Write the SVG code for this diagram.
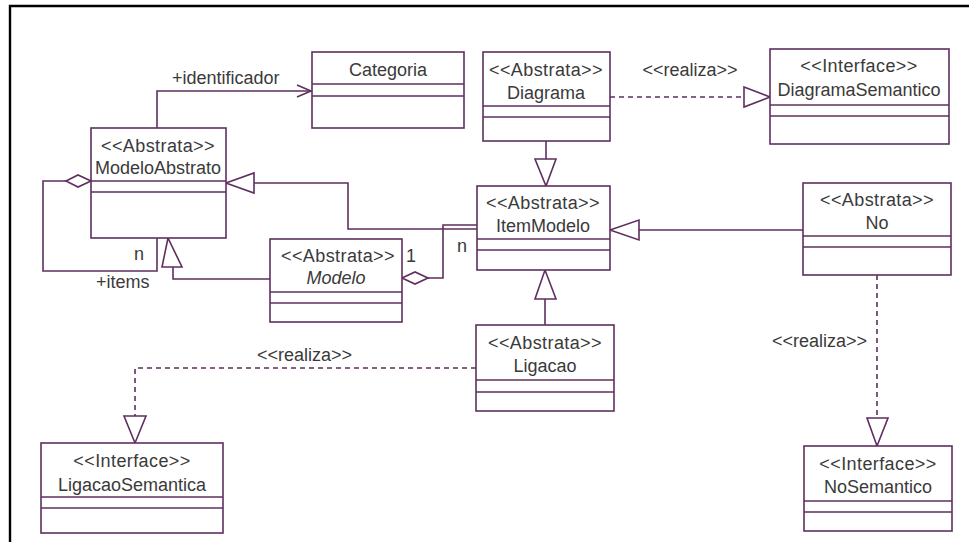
<svg xmlns="http://www.w3.org/2000/svg" width="969" height="542" viewBox="0 0 969 542">
  <defs>
    <style>
      .box { fill: #ffffff; stroke: #5e2f5e; stroke-width: 1.6; }
      .sep { stroke: #5e2f5e; stroke-width: 1.6; }
      .ln { fill: none; stroke: #5e2f5e; stroke-width: 1.6; }
      .dash { fill: none; stroke: #5e2f5e; stroke-width: 1.6; stroke-dasharray: 5 4; }
      .head { fill: #ffffff; stroke: #5e2f5e; stroke-width: 1.6; }
      text { font-family: "Liberation Sans", Arial, sans-serif; font-size: 18px; fill: #3a3a3a; }
      .c { text-anchor: middle; }
      .it { font-style: italic; }
      .st { letter-spacing: 0.4px; }
    </style>
  </defs>

  <rect x="0" y="0" width="969" height="542" fill="#ffffff"/>
  <!-- frame: top and left edges only -->
  <path d="M10 542 V6 H969" fill="none" stroke="#000000" stroke-width="2.4"/>

  <!-- connectors -->
  <g id="connectors">
    <!-- ModeloAbstrato to Categoria (navigable association) -->
    <path class="ln" d="M157 128 V91 H311"/>
    <path class="ln" d="M297 85 L311 91 L297 97"/>
    <text x="172" y="84">+identificador</text>

    <!-- Diagrama realizes DiagramaSemantico -->
    <path class="dash" d="M610 97 H744"/>
    <polygon class="head" points="744,87 770,97 744,107"/>
    <text class="c" x="690" y="76">&lt;&lt;realiza&gt;&gt;</text>

    <!-- Diagrama generalizes to ItemModelo -->
    <path class="ln" d="M546 141 V159"/>
    <polygon class="head" points="535,159 556,159 546,186"/>

    <!-- ItemModelo generalizes to ModeloAbstrato -->
    <path class="ln" d="M477 229 H348 V183 H254"/>
    <polygon class="head" points="254,173 254,193 226,183"/>

    <!-- Modelo aggregates ItemModelo -->
    <path class="ln" d="M428 278 H443 V225 H477"/>
    <polygon class="head" points="402,278 415,272 428,278 415,284"/>
    <text x="406" y="262">1</text>
    <text x="457" y="252">n</text>

    <!-- Modelo generalizes to ModeloAbstrato -->
    <path class="ln" d="M270 279 H173 V267"/>
    <polygon class="head" points="162,267 182,267 168,238"/>

    <!-- ModeloAbstrato self aggregation -->
    <path class="ln" d="M66 181 H43 V271 H157 V238"/>
    <polygon class="head" points="66,181 78,175 91,181 78,187"/>
    <text x="134" y="260">n</text>
    <text x="96" y="288">+items</text>

    <!-- Ligacao generalizes to ItemModelo -->
    <path class="ln" d="M545 325 V299"/>
    <polygon class="head" points="535,299 556,299 545,270"/>

    <!-- No generalizes to ItemModelo -->
    <path class="ln" d="M803 230 H639"/>
    <polygon class="head" points="639,220 639,240 610,230"/>

    <!-- Ligacao realizes LigacaoSemantica -->
    <path class="dash" d="M476 368 H135 V416"/>
    <polygon class="head" points="124,416 146,416 135,443"/>
    <text x="257" y="361">&lt;&lt;realiza&gt;&gt;</text>

    <!-- No realizes NoSemantico -->
    <path class="dash" d="M877 275 V418"/>
    <polygon class="head" points="867,418 888,418 877,446"/>
    <text x="772" y="347">&lt;&lt;realiza&gt;&gt;</text>
  </g>

  <!-- classes -->
  <g id="Categoria">
    <rect class="box" x="312" y="52" width="152" height="76"/>
    <line class="sep" x1="312" y1="84" x2="464" y2="84"/>
    <line class="sep" x1="312" y1="96" x2="464" y2="96"/>
    <text class="c" x="388" y="76">Categoria</text>
  </g>

  <g id="Diagrama">
    <rect class="box" x="483" y="52" width="127" height="89"/>
    <line class="sep" x1="483" y1="106" x2="610" y2="106"/>
    <line class="sep" x1="483" y1="117" x2="610" y2="117"/>
    <text class="c st" x="546" y="76">&lt;&lt;Abstrata&gt;&gt;</text>
    <text class="c" x="546" y="99">Diagrama</text>
  </g>

  <g id="DiagramaSemantico">
    <rect class="box" x="770" y="49" width="179" height="95"/>
    <line class="sep" x1="770" y1="105" x2="949" y2="105"/>
    <line class="sep" x1="770" y1="116" x2="949" y2="116"/>
    <text class="c st" x="859" y="72">&lt;&lt;Interface&gt;&gt;</text>
    <text class="c" x="859" y="96">DiagramaSemantico</text>
  </g>

  <g id="ModeloAbstrato">
    <rect class="box" x="91" y="128" width="135" height="110"/>
    <line class="sep" x1="91" y1="181" x2="226" y2="181"/>
    <line class="sep" x1="91" y1="192" x2="226" y2="192"/>
    <text class="c st" x="158" y="152">&lt;&lt;Abstrata&gt;&gt;</text>
    <text class="c" x="158" y="174">ModeloAbstrato</text>
  </g>

  <g id="Modelo">
    <rect class="box" x="270" y="239" width="132" height="83"/>
    <line class="sep" x1="270" y1="292" x2="402" y2="292"/>
    <line class="sep" x1="270" y1="303" x2="402" y2="303"/>
    <text class="c st" x="338" y="262">&lt;&lt;Abstrata&gt;&gt;</text>
    <text class="c it" x="336" y="284">Modelo</text>
  </g>

  <g id="ItemModelo">
    <rect class="box" x="477" y="186" width="133" height="84"/>
    <line class="sep" x1="477" y1="239" x2="610" y2="239"/>
    <line class="sep" x1="477" y1="250" x2="610" y2="250"/>
    <text class="c st" x="543" y="209">&lt;&lt;Abstrata&gt;&gt;</text>
    <text class="c" x="543" y="232">ItemModelo</text>
  </g>

  <g id="Ligacao">
    <rect class="box" x="476" y="325" width="138" height="86"/>
    <line class="sep" x1="476" y1="380" x2="614" y2="380"/>
    <line class="sep" x1="476" y1="392" x2="614" y2="392"/>
    <text class="c st" x="545" y="349">&lt;&lt;Abstrata&gt;&gt;</text>
    <text class="c" x="545" y="372">Ligacao</text>
  </g>

  <g id="No">
    <rect class="box" x="803" y="183" width="148" height="92"/>
    <line class="sep" x1="803" y1="236" x2="951" y2="236"/>
    <line class="sep" x1="803" y1="247" x2="951" y2="247"/>
    <text class="c st" x="877" y="206">&lt;&lt;Abstrata&gt;&gt;</text>
    <text class="c" x="877" y="229">No</text>
  </g>

  <g id="LigacaoSemantica">
    <rect class="box" x="41" y="443" width="182" height="90"/>
    <line class="sep" x1="41" y1="497" x2="223" y2="497"/>
    <line class="sep" x1="41" y1="508" x2="223" y2="508"/>
    <text class="c st" x="132" y="467">&lt;&lt;Interface&gt;&gt;</text>
    <text class="c" x="132" y="491">LigacaoSemantica</text>
  </g>

  <g id="NoSemantico">
    <rect class="box" x="804" y="446" width="148" height="85"/>
    <line class="sep" x1="804" y1="501" x2="952" y2="501"/>
    <line class="sep" x1="804" y1="512" x2="952" y2="512"/>
    <text class="c st" x="878" y="470">&lt;&lt;Interface&gt;&gt;</text>
    <text class="c" x="878" y="493">NoSemantico</text>
  </g>
</svg>
